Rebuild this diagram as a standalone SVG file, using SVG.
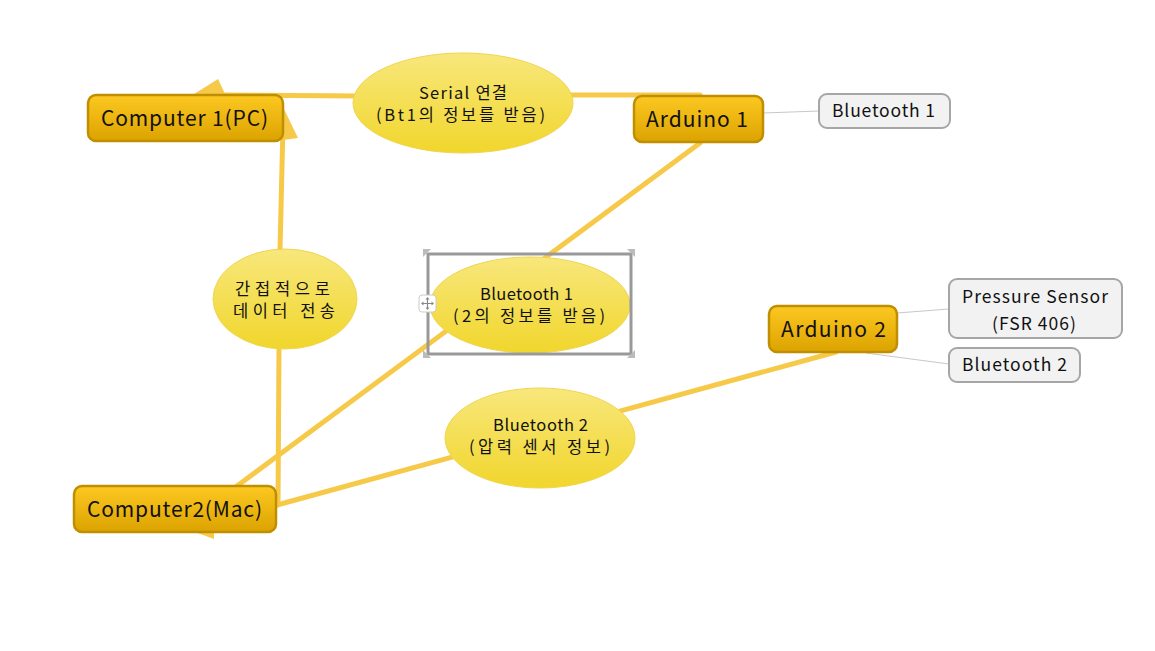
<svg xmlns="http://www.w3.org/2000/svg" width="1155" height="651" viewBox="0 0 1155 651">
<defs>
<linearGradient id="gBox" x1="0" y1="0" x2="0" y2="1">
<stop offset="0" stop-color="#fdc821"/>
<stop offset="1" stop-color="#dca300"/>
</linearGradient>
<linearGradient id="gEll" x1="0" y1="0" x2="0" y2="1">
<stop offset="0" stop-color="#f8e77c"/>
<stop offset="1" stop-color="#f1d62c"/>
</linearGradient>
<style>
.main rect{fill:url(#gBox);stroke:#bf8f00;stroke-width:2.5}
.main text{font-family:"Noto Sans CJK KR","Noto Sans",sans-serif;font-size:21px;fill:#111}
.ell ellipse{fill:url(#gEll);stroke:#f0d550;stroke-width:1}
.ell text{font-family:"Noto Sans CJK KR","Noto Sans",sans-serif;font-size:16.5px;fill:#111}
.sub rect{fill:#f2f2f2;stroke:#a6a6a6;stroke-width:2}
.sub text{font-family:"Noto Sans CJK KR","Noto Sans",sans-serif;font-size:17.5px;fill:#111}
.thick{stroke:#f7c948;stroke-width:5;fill:none;stroke-linecap:round}
.head{fill:#f7c948}
.thin{stroke:#c8c8c8;stroke-width:1;fill:none}
</style>
</defs>
<rect width="1155" height="651" fill="#fff"/>
<g id="connectors">
<line class="thick" x1="700" y1="95" x2="560" y2="95"/>
<line class="thick" x1="360" y1="96" x2="222" y2="95"/>
<polygon class="head" points="218,79 191,96 226,96"/>
<line class="thick" x1="280" y1="250" x2="283" y2="125"/>
<polygon class="head" points="283,107 298,138 283,140 278,130"/>
<line class="thick" x1="278" y1="505" x2="279" y2="348"/>
<polygon class="head" points="192,531 214,539 214,529"/>
<line class="thick" x1="700" y1="143" x2="237" y2="486"/>
<line class="thick" x1="836" y1="352" x2="277" y2="505"/>
<line class="thin" x1="763" y1="113" x2="819" y2="111"/>
<line class="thin" x1="897" y1="313" x2="949" y2="309"/>
<line class="thin" x1="866" y1="353" x2="949" y2="364"/>
</g>
<g id="computer1" class="main">
<rect x="88" y="95" width="195" height="46" rx="8"/>
<text x="101" y="126" textLength="167" lengthAdjust="spacing">Computer 1(PC)</text>
</g>
<g id="arduino1" class="main">
<rect x="634" y="96" width="129" height="46" rx="8"/>
<text x="646" y="127" textLength="102" lengthAdjust="spacing">Arduino 1</text>
</g>
<g id="arduino2" class="main">
<rect x="769" y="306" width="128" height="46" rx="8"/>
<text x="781" y="337" textLength="105" lengthAdjust="spacing">Arduino 2</text>
</g>
<g id="computer2" class="main">
<rect x="74" y="486" width="202" height="46" rx="8"/>
<text x="87" y="517" textLength="175" lengthAdjust="spacing">Computer2(Mac)</text>
</g>
<g id="serial" class="ell">
<ellipse cx="463" cy="103" rx="110" ry="50"/>
<text x="419" y="99" textLength="88" lengthAdjust="spacing">Serial 연결</text>
<text x="376" y="121" textLength="169" lengthAdjust="spacing">(Bt1의 정보를 받음)</text>
</g>
<g id="indirect" class="ell">
<ellipse cx="285" cy="299" rx="72" ry="50"/>
<text x="235" y="295" textLength="95" lengthAdjust="spacing">간접적으로</text>
<text x="233" y="317" textLength="102" lengthAdjust="spacing">데이터 전송</text>
</g>
<g id="bt1label" class="ell">
<ellipse cx="530" cy="305" rx="100" ry="48"/>
<text x="480" y="300" textLength="93" lengthAdjust="spacing">Bluetooth 1</text>
<text x="453" y="322" textLength="152" lengthAdjust="spacing">(2의 정보를 받음)</text>
</g>
<g id="bt2label" class="ell">
<ellipse cx="540" cy="438" rx="95" ry="50"/>
<text x="493" y="431" textLength="95" lengthAdjust="spacing">Bluetooth 2</text>
<text x="469" y="453" textLength="141" lengthAdjust="spacing">(압력 센서 정보)</text>
</g>
<g id="selection">
<rect x="428" y="254" width="203" height="100" fill="none" stroke="#999" stroke-width="3"/>
<polygon points="423,249 431,249 423,257" fill="#bbb"/>
<polygon points="627,249 635,249 635,257" fill="#bbb"/>
<polygon points="423,358 431,358 423,350" fill="#bbb"/>
<polygon points="627,358 635,358 635,350" fill="#bbb"/>
<rect x="419" y="295" width="17" height="17" rx="3" fill="#fff" stroke="#ccc"/>
<path d="M427.5 298v11M422 303.5h11" stroke="#888" stroke-width="1.2"/>
<path d="M427.5 297l-2 2.5h4zM427.5 310l-2-2.5h4zM421 303.5l2.5-2v4zM434 303.5l-2.5-2v4z" fill="#888"/>
</g>
<g id="bluetooth1" class="sub">
<rect x="819" y="94" width="131" height="34" rx="8"/>
<text x="832" y="117" textLength="103" lengthAdjust="spacing">Bluetooth 1</text>
</g>
<g id="pressure" class="sub">
<rect x="949" y="279" width="173" height="59" rx="8"/>
<text x="962" y="303" textLength="146" lengthAdjust="spacing">Pressure Sensor</text>
<text x="992" y="330" textLength="84" lengthAdjust="spacing">(FSR 406)</text>
</g>
<g id="bluetooth2" class="sub">
<rect x="949" y="348" width="131" height="34" rx="8"/>
<text x="962" y="371" textLength="105" lengthAdjust="spacing">Bluetooth 2</text>
</g>
</svg>
